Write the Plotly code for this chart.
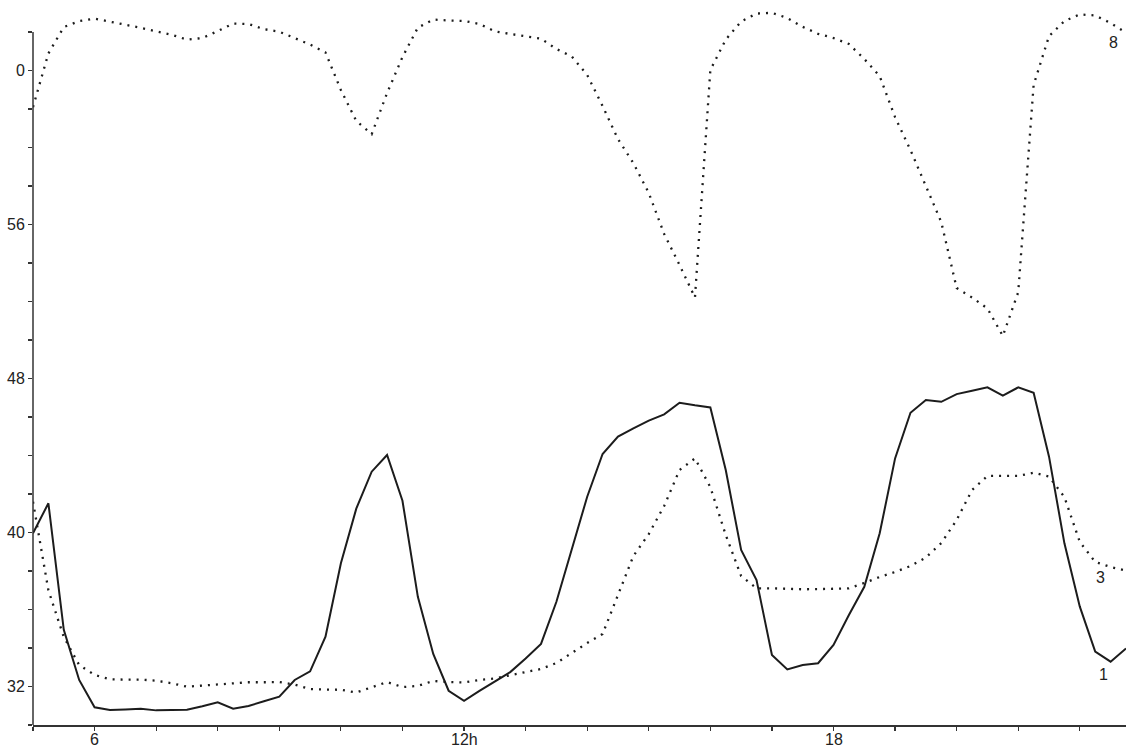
import plotly.graph_objects as go

# time of day (hours), sampled every 15 minutes
hours = [5.0, 5.25, 5.5, 5.75, 6.0, 6.25, 6.5, 6.75, 7.0, 7.25, 7.5, 7.75,
         8.0, 8.25, 8.5, 8.75, 9.0, 9.25, 9.5, 9.75, 10.0, 10.25, 10.5, 10.75,
         11.0, 11.25, 11.5, 11.75, 12.0, 12.25, 12.5, 12.75, 13.0, 13.25, 13.5, 13.75,
         14.0, 14.25, 14.5, 14.75, 15.0, 15.25, 15.5, 15.75, 16.0, 16.25, 16.5, 16.75,
         17.0, 17.25, 17.5, 17.75, 18.0, 18.25, 18.5, 18.75, 19.0, 19.25, 19.5, 19.75,
         20.0, 20.25, 20.5, 20.75, 21.0, 21.25, 21.5, 21.75, 22.0, 22.25, 22.5, 22.75]

series_1 = [39.96, 41.52, 34.94, 32.34, 30.92, 30.78, 30.81, 30.85, 30.76, 30.78, 30.79, 30.97,
            31.18, 30.85, 30.99, 31.23, 31.47, 32.34, 32.79, 34.59, 38.40, 41.24, 43.16, 44.03,
            41.65, 36.66, 33.69, 31.78, 31.26, 31.77, 32.27, 32.75, 33.45, 34.21, 36.40, 39.20,
            41.86, 44.08, 44.98, 45.41, 45.81, 46.14, 46.74, 46.61, 46.50, 43.25, 39.09, 37.53,
            33.64, 32.89, 33.12, 33.21, 34.16, 35.71, 37.18, 39.96, 43.85, 46.22, 46.88, 46.79,
            47.19, 47.37, 47.54, 47.11, 47.54, 47.26, 43.94, 39.44, 36.15, 33.81, 33.29, 33.98]

series_3 = [41.60, 37.00, 34.57, 33.12, 32.60, 32.37, 32.36, 32.36, 32.30, 32.17, 31.99, 32.04,
            32.11, 32.18, 32.22, 32.22, 32.23, 32.10, 31.87, 31.84, 31.83, 31.69, 31.95, 32.23,
            31.97, 32.03, 32.29, 32.23, 32.21, 32.34, 32.42, 32.60, 32.75, 32.91, 33.22, 33.74,
            34.26, 34.73, 36.75, 38.78, 39.92, 41.38, 43.25, 43.85, 42.36, 39.87, 37.74, 37.10,
            37.10, 37.06, 37.05, 37.06, 37.09, 37.10, 37.38, 37.69, 37.95, 38.26, 38.70, 39.45,
            40.65, 42.21, 42.94, 42.94, 42.94, 43.11, 42.91, 41.84, 39.51, 38.47, 38.21, 38.02]

series_8 = [62.10, 64.89, 66.26, 66.57, 66.70, 66.55, 66.39, 66.22, 66.04, 65.86, 65.61, 65.69,
            66.05, 66.44, 66.42, 66.15, 66.02, 65.69, 65.35, 64.94, 62.99, 61.38, 60.70, 62.83,
            64.70, 66.23, 66.65, 66.60, 66.58, 66.42, 66.04, 65.90, 65.78, 65.66, 65.12, 64.73,
            63.77, 62.16, 60.44, 59.19, 57.64, 55.51, 53.90, 52.21, 64.03, 65.61, 66.55, 66.96,
            67.00, 66.73, 66.27, 65.91, 65.69, 65.38, 64.60, 63.71, 61.58, 59.87, 58.00, 56.13,
            52.70, 52.21, 51.64, 50.21, 52.49, 63.25, 65.79, 66.57, 66.92, 66.86, 66.47, 65.97]

x_tickvals = [5, 6, 7, 8, 9, 10, 11, 12, 13, 14, 15, 16, 17, 18, 19, 20, 21, 22]
x_labels = {6: "6", 12: "12h", 18: "18"}
y_tickvals = [30, 32, 34, 36, 38, 40, 42, 44, 46, 48, 50, 52, 54, 56, 58, 60, 62, 64, 66]
y_ticktext = ["", "32", "", "", "", "40", "", "", "", "48", "", "", "", "56", "", "", "", "0", ""]

INK = "#1c1c1c"
DOTS = "2px,6px"

fig = go.Figure()
fig.add_trace(go.Scatter(x=hours, y=series_8, mode="lines",
                         line=dict(color=INK, width=2.3, dash=DOTS), name="8"))
fig.add_trace(go.Scatter(x=hours, y=series_3, mode="lines",
                         line=dict(color=INK, width=2.3, dash=DOTS), name="3"))
fig.add_trace(go.Scatter(x=hours, y=series_1, mode="lines",
                         line=dict(color=INK, width=2), name="1"))

# vertical axis line (stops at the top tick, while curve 8 runs above it)
fig.add_shape(type="line", xref="paper", yref="y", x0=0, x1=0, y0=30, y1=66,
              line=dict(color="#333333", width=1.5))

label_font = dict(family="Liberation Sans, Arial, sans-serif", size=16, color="#222222")
fig.add_annotation(x=22.54, y=65.48, text="8", showarrow=False, font=label_font)
fig.add_annotation(x=22.34, y=37.64, text="3", showarrow=False, font=label_font)
fig.add_annotation(x=22.39, y=32.62, text="1", showarrow=False, font=label_font)

# hour labels under the time axis
for hv, txt in x_labels.items():
    fig.add_annotation(x=hv, xref="x", y=0, yref="paper", yanchor="top", yshift=-4,
                       text=txt, showarrow=False, font=label_font)

fig.update_layout(
    width=1126, height=747,
    margin=dict(l=33, r=0, t=8, b=22, autoexpand=False),
    paper_bgcolor="white", plot_bgcolor="white",
    showlegend=False, hovermode=False,
    font=label_font,
    xaxis=dict(range=[5, 22.75], showgrid=False, zeroline=False, automargin=False,
               showline=True, linecolor="#333333", linewidth=1.5,
               ticks="outside", ticklen=4, tickwidth=1.2, tickcolor="#333333",
               tickmode="array", tickvals=x_tickvals, showticklabels=False),
    yaxis=dict(range=[30, 67.25], showgrid=False, zeroline=False, showline=False,
               automargin=False,
               ticks="outside", ticklen=4, tickwidth=1.2, tickcolor="#333333",
               tickmode="array", tickvals=y_tickvals, ticktext=y_ticktext,
               tickfont=label_font),
)

# remove the default page margin so the 1126x747 figure fills the window exactly
fig.write_html(
    "out.html",
    config={"displayModeBar": False, "staticPlot": True},
    post_script="document.documentElement.style.overflow='hidden';"
                "document.body.style.margin='0';document.body.style.overflow='hidden';",
)
